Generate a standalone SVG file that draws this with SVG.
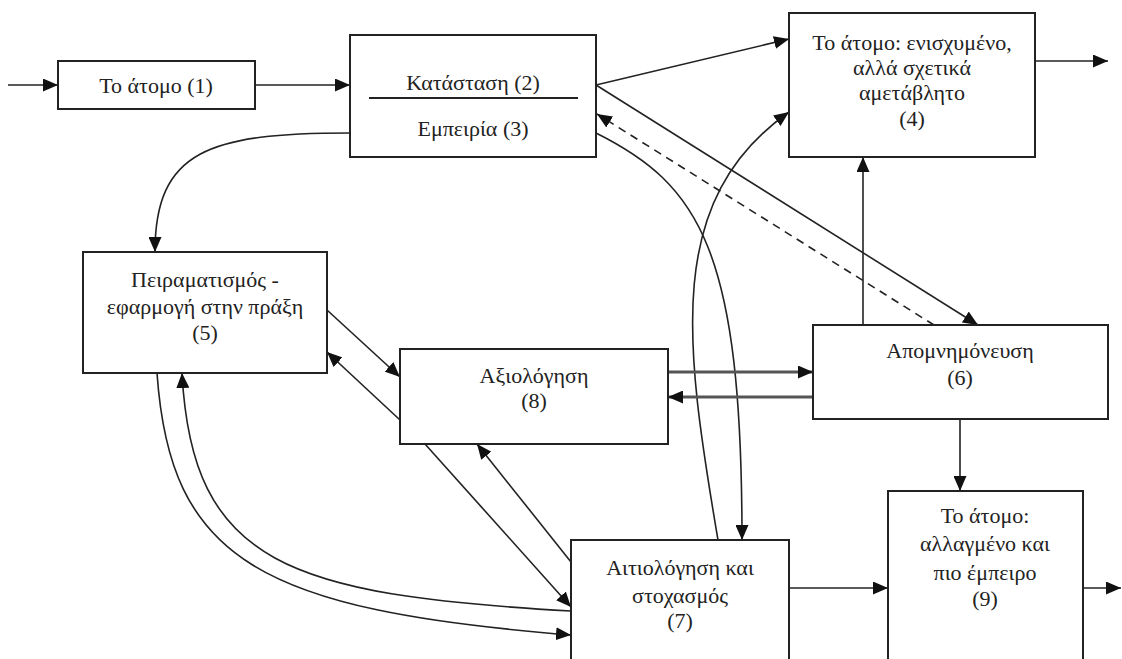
<svg xmlns="http://www.w3.org/2000/svg" width="1122" height="659" viewBox="0 0 1122 659">
<style>
.box{fill:#fff;stroke:#222;stroke-width:2}
.t{font-family:"Liberation Serif","DejaVu Serif",serif;font-size:22px;fill:#222;text-anchor:middle;dominant-baseline:central}
.c{fill:none;stroke:#222;stroke-width:1.6}
.d{fill:none;stroke:#222;stroke-width:1.6;stroke-dasharray:8 6}
.dbl{fill:none;stroke:#555;stroke-width:3}
</style>
<defs>
<marker id="a" viewBox="0 0 15 13" refX="15" refY="6.5" markerWidth="15" markerHeight="13" markerUnits="userSpaceOnUse" orient="auto">
<path d="M0,0 L15,6.5 L0,13 Z" fill="#111"/>
</marker>
</defs>
<rect width="1122" height="659" fill="#fff"/>
<g id="connectors">
<line class="c" x1="8" y1="85" x2="58" y2="85" marker-end="url(#a)"/>
<line class="c" x1="255" y1="85" x2="350" y2="85" marker-end="url(#a)"/>
<line class="c" x1="596" y1="85" x2="789" y2="39" marker-end="url(#a)"/>
<line class="c" x1="596" y1="85" x2="978" y2="325" marker-end="url(#a)"/>
<line class="d" x1="934" y1="325" x2="597" y2="114" marker-end="url(#a)"/>
<path class="c" d="M596,133 C700,185 742,250 742,540" marker-end="url(#a)"/>
<path class="c" d="M718,540 C684,340 665,200 789,112" marker-end="url(#a)"/>
<path class="c" d="M350,133 C210,133 155,150 155,252" marker-end="url(#a)"/>
<line class="c" x1="863" y1="325" x2="863" y2="157" marker-end="url(#a)"/>
<line class="c" x1="960" y1="419" x2="960" y2="491" marker-end="url(#a)"/>
<line class="c" x1="1035" y1="61" x2="1108" y2="61" marker-end="url(#a)"/>
<line class="c" x1="789" y1="588" x2="888" y2="588" marker-end="url(#a)"/>
<line class="c" x1="1083" y1="588" x2="1121" y2="588" marker-end="url(#a)"/>
<line class="dbl" x1="668" y1="372" x2="813" y2="372" marker-end="url(#a)"/>
<line class="dbl" x1="813" y1="397" x2="668" y2="397" marker-end="url(#a)"/>
<line class="c" x1="327" y1="310" x2="400" y2="377" marker-end="url(#a)"/>
<line class="c" x1="400" y1="420" x2="327" y2="352" marker-end="url(#a)"/>
<line class="c" x1="425" y1="444" x2="571" y2="607" marker-end="url(#a)"/>
<line class="c" x1="571" y1="562" x2="477" y2="444" marker-end="url(#a)"/>
<path class="c" d="M157,373 C170,560 260,610 571,635" marker-end="url(#a)"/>
<path class="c" d="M571,611 C290,595 192,565 182,373" marker-end="url(#a)"/>
</g>
<g id="n1">
<rect class="box" x="58" y="61" width="197" height="48"/>
<text class="t" x="156" y="85">Το άτομο (1)</text>
</g>
<g id="n2">
<rect class="box" x="350" y="35" width="246" height="122"/>
<line x1="369" y1="98" x2="578" y2="98" stroke="#222" stroke-width="2"/>
<text class="t" x="473" y="82">Κατάσταση (2)</text>
<text class="t" x="473" y="128">Εμπειρία (3)</text>
</g>
<g id="n4">
<rect class="box" x="789" y="13" width="246" height="144"/>
<text class="t" x="912" y="42">Το άτομο: ενισχυμένο,</text>
<text class="t" x="912" y="67">αλλά σχετικά</text>
<text class="t" x="912" y="92">αμετάβλητο</text>
<text class="t" x="912" y="118">(4)</text>
</g>
<g id="n5">
<rect class="box" x="83" y="252" width="244" height="121"/>
<text class="t" x="205" y="279">Πειραματισμός  -</text>
<text class="t" x="205" y="306">εφαρμογή στην πράξη</text>
<text class="t" x="205" y="332">(5)</text>
</g>
<g id="n8">
<rect class="box" x="400" y="349" width="268" height="95"/>
<text class="t" x="534" y="375">Αξιολόγηση</text>
<text class="t" x="534" y="400">(8)</text>
</g>
<g id="n6">
<rect class="box" x="813" y="325" width="295" height="94"/>
<text class="t" x="960" y="350">Απομνημόνευση</text>
<text class="t" x="960" y="377">(6)</text>
</g>
<g id="n7">
<rect class="box" x="571" y="540" width="218" height="125"/>
<text class="t" x="680" y="567">Αιτιολόγηση και</text>
<text class="t" x="680" y="595">στοχασμός</text>
<text class="t" x="680" y="620">(7)</text>
</g>
<g id="n9">
<rect class="box" x="888" y="491" width="195" height="174"/>
<text class="t" x="985" y="515">Το άτομο:</text>
<text class="t" x="985" y="543">αλλαγμένο και</text>
<text class="t" x="985" y="572">πιο έμπειρο</text>
<text class="t" x="985" y="598">(9)</text>
</g>
</svg>
